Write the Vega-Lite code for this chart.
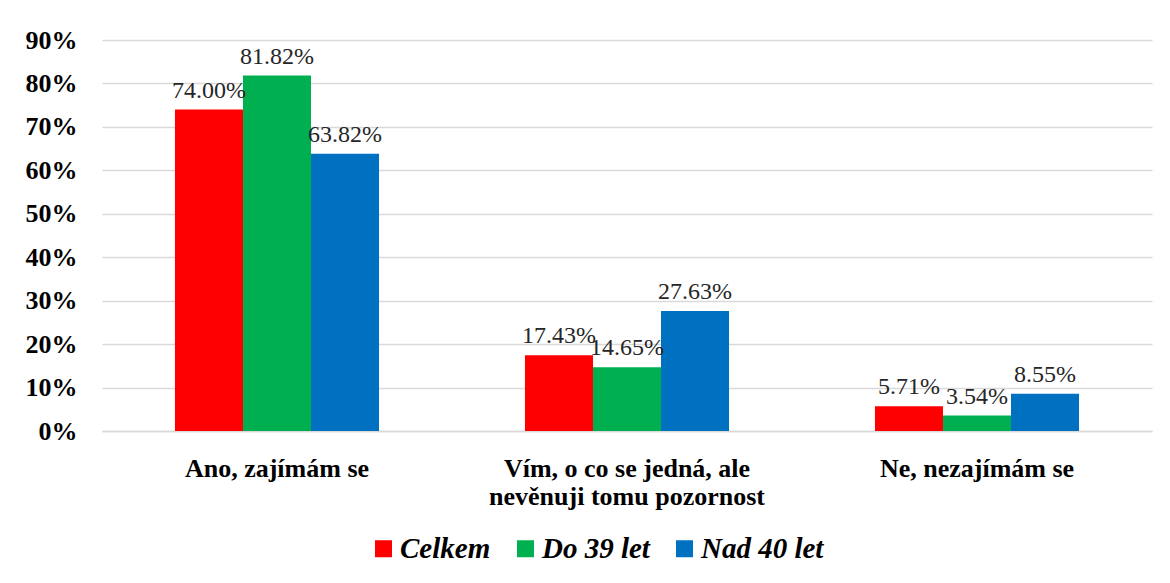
{
  "$schema": "https://vega.github.io/schema/vega-lite/v6.json",
  "autosize": "none",
  "padding": {"left": 102, "top": 40, "right": 18, "bottom": 152},
  "width": 1050,
  "height": 391,
  "background": "white",
  "config": {"view": {"stroke": null}, "font": "Liberation Serif"},
  "data": {"values": [
    {"cat": "Ano, zajímám se", "group": "Celkem", "value": 0.74},
    {"cat": "Ano, zajímám se", "group": "Do 39 let", "value": 0.8182},
    {"cat": "Ano, zajímám se", "group": "Nad 40 let", "value": 0.6382},
    {"cat": "Vím, o co se jedná, ale|nevěnuji tomu pozornost", "group": "Celkem", "value": 0.1743},
    {"cat": "Vím, o co se jedná, ale|nevěnuji tomu pozornost", "group": "Do 39 let", "value": 0.1465},
    {"cat": "Vím, o co se jedná, ale|nevěnuji tomu pozornost", "group": "Nad 40 let", "value": 0.2763},
    {"cat": "Ne, nezajímám se", "group": "Celkem", "value": 0.0571},
    {"cat": "Ne, nezajímám se", "group": "Do 39 let", "value": 0.0354},
    {"cat": "Ne, nezajímám se", "group": "Nad 40 let", "value": 0.0855}
  ]},
  "encoding": {
    "x": {"field": "cat", "type": "nominal", "sort": null,
      "scale": {"paddingInner": 0.417, "paddingOuter": 0.2085},
      "axis": {"title": null, "labelAngle": 0, "labelFont": "Liberation Serif", "labelFontWeight": "bold", "labelFontSize": 26, "labelColor": "black", "labelPadding": 24, "labelLineHeight": 28, "labelLimit": 400, "ticks": false, "domainColor": "#D9D9D9", "domainWidth": 1.5, "labelExpr": "split(datum.label, '|')"}},
    "xOffset": {"field": "group", "type": "nominal", "sort": ["Celkem", "Do 39 let", "Nad 40 let"]},
    "y": {"field": "value", "type": "quantitative",
      "scale": {"domain": [0, 0.9]},
      "axis": {"title": null, "format": ".0%", "values": [0, 0.1, 0.2, 0.3, 0.4, 0.5, 0.6, 0.7, 0.8, 0.9], "labelFont": "Liberation Serif", "labelFontWeight": "bold", "labelFontSize": 26, "labelColor": "black", "labelPadding": 25, "ticks": false, "domain": false, "gridColor": "#D9D9D9", "gridWidth": 1.5}}
  },
  "layer": [
    {"mark": {"type": "bar"},
      "encoding": {
        "color": {"field": "group", "type": "nominal", "sort": ["Celkem", "Do 39 let", "Nad 40 let"],
          "scale": {"domain": ["Celkem", "Do 39 let", "Nad 40 let"], "range": ["#FF0000", "#00B050", "#0070C0"]},
          "legend": {"title": null, "orient": "none", "legendX": 267, "legendY": 494, "direction": "horizontal", "symbolType": "square", "symbolSize": 289, "symbolStrokeWidth": 0, "labelFont": "Liberation Serif", "labelFontWeight": "bold", "labelFontStyle": "italic", "labelFontSize": 29, "labelColor": "black", "columnPadding": 20, "labelOffset": 2, "labelLimit": 300}}
      }},
    {"mark": {"type": "text", "baseline": "bottom", "dy": -7, "font": "Liberation Serif", "fontSize": 24, "color": "#262626"},
      "encoding": {"text": {"field": "value", "type": "quantitative", "format": ".2%"}}}
  ]
}
